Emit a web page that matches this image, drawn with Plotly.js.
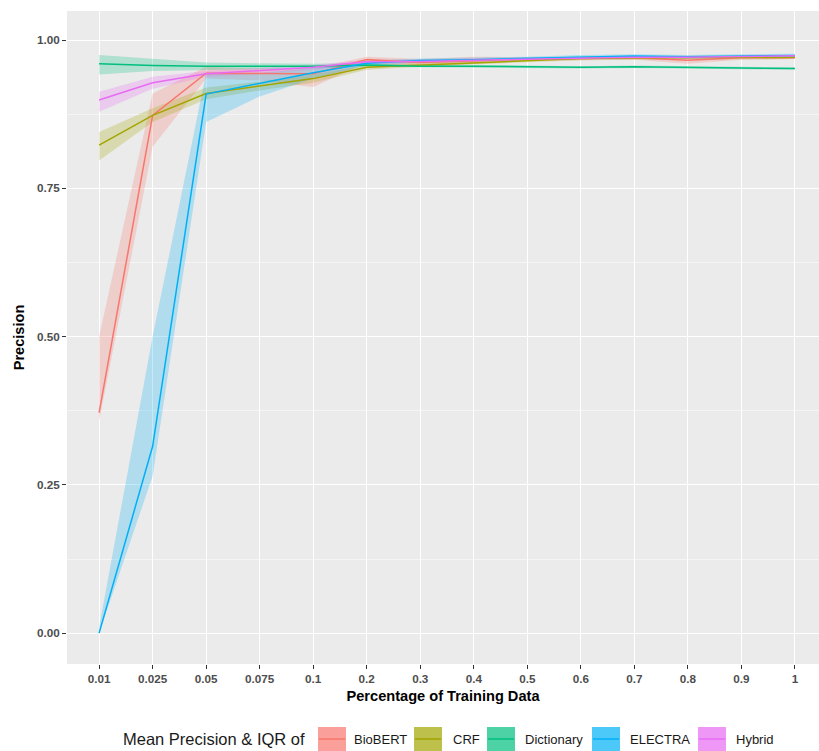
<!DOCTYPE html>
<html>
<head>
<meta charset="utf-8">
<script src="https://cdn.plot.ly/plotly-3.0.1.min.js"></script>
<style>html,body{margin:0;padding:0;background:#fff;overflow:hidden;}</style>
</head>
<body>
<div id="chart" style="width:819px;height:751px;"></div>
<script>
// ---- Data ----
const categories = ["0.01","0.025","0.05","0.075","0.1","0.2","0.3","0.4","0.5","0.6","0.7","0.8","0.9","1"];
const seriesNames = ["BioBERT","CRF","Dictionary","ELECTRA","Hybrid"];

const biobertMean  = [0.372, 0.873, 0.944, 0.944, 0.943, 0.967, 0.962, 0.965, 0.968, 0.969, 0.970, 0.966, 0.970, 0.970];
const biobertLower = [0.357, 0.820, 0.935, 0.932, 0.921, 0.962, 0.955, 0.960, 0.965, 0.966, 0.967, 0.960, 0.967, 0.968];
const biobertUpper = [0.500, 0.910, 0.955, 0.952, 0.952, 0.972, 0.968, 0.972, 0.971, 0.972, 0.973, 0.971, 0.973, 0.972];

const crfMean  = [0.823, 0.873, 0.910, 0.923, 0.935, 0.954, 0.958, 0.962, 0.966, 0.969, 0.970, 0.970, 0.971, 0.971];
const crfLower = [0.797, 0.862, 0.900, 0.915, 0.928, 0.950, 0.955, 0.959, 0.963, 0.966, 0.967, 0.967, 0.968, 0.968];
const crfUpper = [0.845, 0.885, 0.920, 0.930, 0.942, 0.958, 0.962, 0.965, 0.969, 0.972, 0.973, 0.973, 0.974, 0.974];

const dictMean  = [0.960, 0.957, 0.956, 0.956, 0.956, 0.958, 0.956, 0.956, 0.955, 0.954, 0.955, 0.9535, 0.953, 0.952];
const dictLower = [0.942, 0.948, 0.950, 0.951, 0.952, 0.955, 0.954, 0.954, 0.953, 0.952, 0.953, 0.951, 0.951, 0.950];
const dictUpper = [0.975, 0.968, 0.962, 0.961, 0.960, 0.961, 0.958, 0.958, 0.957, 0.956, 0.957, 0.956, 0.955, 0.954];

const electraMean  = [0.000, 0.315, 0.909, 0.927, 0.945, 0.961, 0.9655, 0.967, 0.969, 0.972, 0.973, 0.972, 0.973, 0.974];
const electraLower = [0.000, 0.265, 0.862, 0.905, 0.935, 0.957, 0.962, 0.964, 0.966, 0.969, 0.970, 0.969, 0.970, 0.971];
const electraUpper = [0.010, 0.500, 0.945, 0.945, 0.953, 0.965, 0.969, 0.970, 0.972, 0.975, 0.976, 0.975, 0.976, 0.977];

const hybridMean  = [0.899, 0.928, 0.943, 0.948, 0.954, 0.9635, 0.964, 0.966, 0.968, 0.970, 0.971, 0.971, 0.972, 0.9735];
const hybridLower = [0.879, 0.918, 0.938, 0.943, 0.950, 0.960, 0.961, 0.963, 0.966, 0.968, 0.969, 0.969, 0.970, 0.972];
const hybridUpper = [0.913, 0.938, 0.948, 0.953, 0.958, 0.967, 0.967, 0.969, 0.970, 0.972, 0.973, 0.973, 0.974, 0.975];

const colors = ["#F8766D","#A3A500","#00BF7D","#00B0F6","#E76BF3"];

// ---- Build ----
const means  = [biobertMean, crfMean, dictMean, electraMean, hybridMean];
const lowers = [biobertLower, crfLower, dictLower, electraLower, hybridLower];
const uppers = [biobertUpper, crfUpper, dictUpper, electraUpper, hybridUpper];

function rgba(hex, a){
  const r=parseInt(hex.slice(1,3),16), g=parseInt(hex.slice(3,5),16), b=parseInt(hex.slice(5,7),16);
  return `rgba(${r},${g},${b},${a})`;
}

const traces = [];
seriesNames.forEach((n,i)=>{
  traces.push({
    type:'scatter', mode:'lines', name:n+' IQR', showlegend:false, hoverinfo:'skip',
    x: categories.concat(categories.slice().reverse()),
    y: uppers[i].concat(lowers[i].slice().reverse()),
    fill:'toself', fillcolor: rgba(colors[i],0.25), line:{width:0}
  });
});
seriesNames.forEach((n,i)=>{
  traces.push({
    type:'scatter', mode:'lines', name:n, showlegend:false,
    x: categories, y: means[i], line:{color:colors[i], width:1.5}
  });
});

// ---- Layout helpers (pixel -> paper) ----
const W=819, H=751, mL=67, mR=0, mT=11, mB=87;
const pw=W-mL-mR, ph=H-mT-mB;
const px=x=>(x-mL)/pw, py=y=>(H-mB-y)/ph;

const shapes=[], annotations=[];
const keyX=[318,414,487,592,698], labX=[352,451,523,628,734];
const keyTop=727, keyBot=751, legY=739;
seriesNames.forEach((n,i)=>{
  shapes.push({type:'rect', xref:'paper', yref:'paper', x0:px(keyX[i]), x1:px(keyX[i]+28), y0:py(keyBot), y1:py(keyTop),
    fillcolor: rgba(colors[i],0.7), line:{width:0}, layer:'above'});
  shapes.push({type:'line', xref:'paper', yref:'paper', x0:px(keyX[i]+1), x1:px(keyX[i]+27), y0:py(legY), y1:py(legY),
    line:{color:colors[i], width:1.5}, layer:'above'});
  annotations.push({xref:'paper', yref:'paper', x:px(labX[i]), y:py(legY), xanchor:'left', yanchor:'middle',
    text:n, showarrow:false, font:{family:'Liberation Sans, Arial, sans-serif', size:13, color:'#1a1a1a'}});
});
annotations.push({xref:'paper', yref:'paper', x:px(121), y:py(legY), xanchor:'left', yanchor:'middle',
  text:'Mean Precision &amp; IQR of', showarrow:false, font:{family:'Liberation Sans, Arial, sans-serif', size:16.5, color:'#1a1a1a'}});

const layout = {
  width:W, height:H,
  margin:{l:mL, r:mR, t:mT, b:mB, pad:0},
  paper_bgcolor:'#ffffff', plot_bgcolor:'#EBEBEB',
  showlegend:false,
  font:{family:'Liberation Sans, Arial, sans-serif'},
  xaxis:{
    type:'category', categoryorder:'array', categoryarray:categories,
    range:[-0.6, 13.45],
    showgrid:true, gridcolor:'#ffffff', gridwidth:1.1,
    zeroline:false, showline:false,
    ticks:'outside', ticklen:4, tickcolor:'#333333', tickwidth:1,
    tickfont:{family:'Liberation Sans, Arial, sans-serif', size:11.7, color:'#4D4D4D', weight:'bold'},
    title:{text:'Percentage of Training Data', standoff:6,
      font:{family:'Liberation Sans, Arial, sans-serif', size:14.6, color:'#000000', weight:'bold'}}
  },
  yaxis:{
    range:[-0.052, 1.049],
    tick0:0, dtick:0.25, tickformat:'.2f',
    showgrid:true, gridcolor:'#ffffff', gridwidth:1.1,
    minor:{dtick:0.125, tick0:0, showgrid:true, gridcolor:'#ffffff', gridwidth:0.5, ticks:''},
    zeroline:false, showline:false,
    ticks:'outside', ticklen:4, tickcolor:'#333333', tickwidth:1,
    tickfont:{family:'Liberation Sans, Arial, sans-serif', size:11.7, color:'#4D4D4D', weight:'bold'},
    title:{text:'Precision', standoff:8,
      font:{family:'Liberation Sans, Arial, sans-serif', size:14.6, color:'#000000', weight:'bold'}}
  },
  shapes:shapes, annotations:annotations
};

Plotly.newPlot('chart', traces, layout, {displayModeBar:false, staticPlot:true});
</script>
</body>
</html>
